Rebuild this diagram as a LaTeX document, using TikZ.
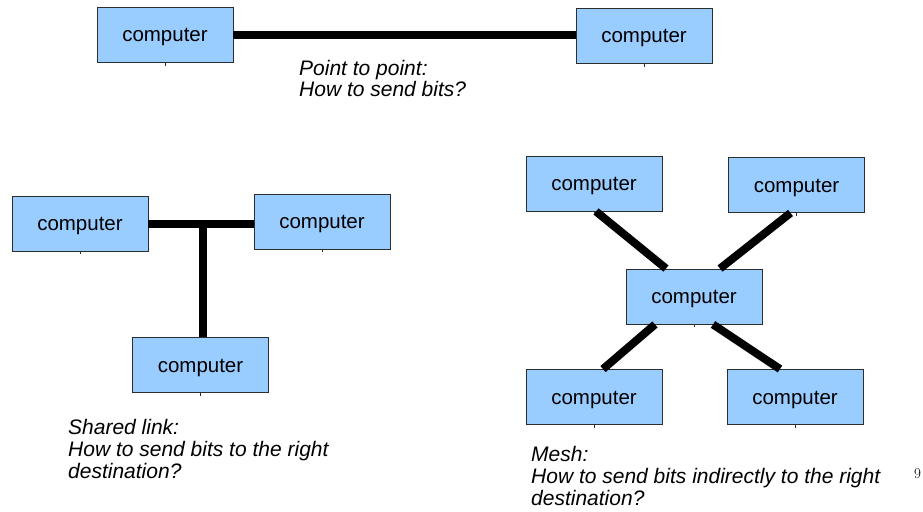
\documentclass[tikz,border=0pt]{standalone}
\usepackage{fontspec}
\setmainfont{Liberation Sans}
\newfontfamily\pagenumfont{Latin Modern Roman}
\definecolor{boxfill}{RGB}{153,204,255}
\definecolor{boxline}{RGB}{45,45,45}
\tikzset{
  pc/.style={draw=boxline, fill=boxfill, line width=0.9pt, inner sep=0pt,
             minimum width=136pt, minimum height=55pt,
             text height=18pt, text depth=4pt,
             font=\fontsize{20.5}{24}\selectfont},
  link/.style={line width=8pt, black},
  tick/.style={boxline, line width=0.8pt},
  caption/.style={anchor=base west, align=left, inner sep=0pt,
                  font=\fontsize{21}{21.7}\selectfont\itshape}
}
\begin{document}
\begin{tikzpicture}[x=1pt, y=-1pt]
  \useasboundingbox (0,0) rectangle (923,511);

  % point to point
  \node[pc] (p1) at (165,35) {computer};
  \node[pc] (p2) at (644,36) {computer};
  \draw[link] (p1.east) -- (p2.west |- p1.east);
  % captions are anchored at the baseline of their last line
  \node[caption] (pcap) at (299,96.7) {Point to point:\\How to send bits?};

  % shared link
  \node[pc] (s1) at (80,223.5) {computer};
  \node[pc] (s2) at (322,221.5) {computer};
  \node[pc] (s3) at (200.5,365) {computer};
  \coordinate (sj) at (203,223.5);
  \draw[link] (s1.east) -- (s2.west |- s1.east);
  \draw[link] (sj) -- (sj |- s3.north);
  \node[caption] (scap) at (68,478) {Shared link:\\How to send bits to the right\\destination?};

  % mesh
  \node[pc] (mtl) at (594,183.5) {computer};
  \node[pc] (mtr) at (796.5,185) {computer};
  \node[pc] (mc)  at (694,296.5) {computer};
  \node[pc] (mbl) at (594,397) {computer};
  \node[pc] (mbr) at (795,397) {computer};
  \draw[link] ([xshift=2pt]mtl.south) -- ([xshift=-28pt]mc.north);
  \draw[link] ([xshift=-6pt]mtr.south) -- ([xshift=26pt]mc.north);
  \draw[link] ([xshift=-39pt]mc.south) -- ([xshift=9pt]mbl.north);
  \draw[link] ([xshift=19pt]mc.south) -- ([xshift=-15pt]mbr.north);
  \node[caption] (mcap) at (531,505) {Mesh:\\How to send bits indirectly to the right\\destination?};

  % small glue marks under the boxes
  \foreach \b in {p1,p2,s1,s2,s3,mtl,mtr,mc,mbl,mbr}
    \draw[tick] (\b.south) -- ++(0,3);

  % page number
  \node[anchor=base west, inner sep=0pt, font=\pagenumfont\fontsize{15}{17}\selectfont] (pg) at (914,478) {9};
\end{tikzpicture}
\end{document}
